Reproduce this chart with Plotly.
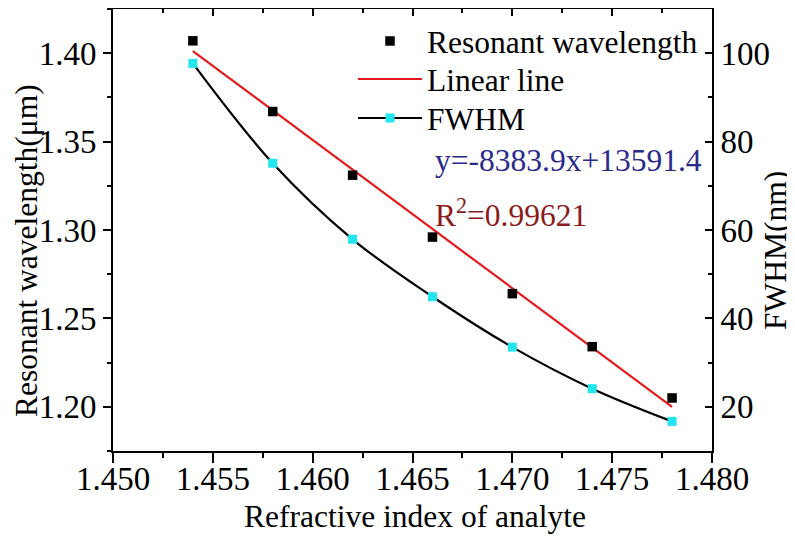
import plotly.graph_objects as go

# ---- data ----
refractive_index = [1.454, 1.458, 1.462, 1.466, 1.470, 1.474, 1.478]
resonant_wavelength = [1.407, 1.367, 1.331, 1.296, 1.264, 1.234, 1.205]   # um
fwhm_nm = [97.7, 75.1, 57.9, 44.9, 33.5, 24.1, 16.7]
fit_slope = -8383.9
fit_intercept = 13591.4
r_squared = "0.99621"
x_ticks = [1.450, 1.455, 1.460, 1.465, 1.470, 1.475, 1.480]
y_ticks = [1.20, 1.25, 1.30, 1.35, 1.40]
y2_ticks = [20, 40, 60, 80, 100]
x_title = "Refractive index of analyte"
y_title = "Resonant wavelength(μm)"
y2_title = "FWHM(nm)"

linear_line = [(fit_slope * x + fit_intercept) / 1000.0 for x in refractive_index]

FONT = "Liberation Serif, Times New Roman, serif"
FS = 31.5
TFS = 33

# page offset from default html body margin
OFF = 8
PAGE_W, PAGE_H = 795, 537
# plot area in page pixels
L, R, T, B = 113, 712, 9, 451
W, H = R - L, B - T


def px_x(px):
    return (px - L) / W


def px_y(py):
    return 1 - (py - T) / H


fig = go.Figure()
fig.add_trace(go.Scatter(
    x=refractive_index, y=fwhm_nm, mode="lines+markers", name="FWHM",
    line=dict(color="black", width=2.2, shape="spline", smoothing=1.0),
    marker=dict(symbol="square", size=9, color="#22e5f0"),
    xaxis="x", yaxis="y2", legend="legend3"))
fig.add_trace(go.Scatter(
    x=refractive_index, y=linear_line, mode="lines", name="Linear line",
    line=dict(color="#e41a1c", width=2.2), xaxis="x", yaxis="y",
    legend="legend2"))
fig.add_trace(go.Scatter(
    x=refractive_index, y=resonant_wavelength, mode="markers",
    name="Resonant wavelength",
    marker=dict(symbol="square", size=9.5, color="black"),
    xaxis="x", yaxis="y", legend="legend"))
# invisible traces for the extra tick-mark axes
for xa in ("x2", "x3"):
    fig.add_trace(go.Scatter(x=[x_ticks[0]], y=[y_ticks[0]], mode="markers",
                             marker=dict(opacity=0), showlegend=False,
                             hoverinfo="skip", xaxis=xa, yaxis="y"))

axis_common = dict(showline=True, linecolor="black", linewidth=2,
                   showgrid=False, zeroline=False, tickcolor="black",
                   tickwidth=2, automargin=False,
                   tickfont=dict(family=FONT, size=TFS, color="black"))


def leg(row_y):
    return dict(x=px_x(353), y=px_y(row_y), xanchor="left", yanchor="middle",
                bgcolor="rgba(0,0,0,0)", borderwidth=0, itemwidth=64,
                font=dict(family=FONT, size=FS, color="black"))


fig.update_layout(
    width=PAGE_W - OFF, height=PAGE_H - OFF,
    margin=dict(l=L - OFF, r=PAGE_W - R, t=T - OFF, b=PAGE_H - B),
    paper_bgcolor="white", plot_bgcolor="white",
    font=dict(family=FONT, size=FS, color="black"),
    showlegend=True,
    legend=leg(41), legend2=leg(79), legend3=leg(118),
    # bottom axis labels
    xaxis=dict(showgrid=False, zeroline=False, showline=False,
               automargin=False, anchor="y",
               range=[1.450, 1.480], tickvals=x_ticks,
               ticktext=[f"{v:.3f}" for v in x_ticks], ticks="",
               ticklabelstandoff=5,
               tickfont=dict(family=FONT, size=TFS, color="black")),
    # bottom axis line and tick marks (major + minor)
    xaxis3=dict(**axis_common, overlaying="x", side="bottom", anchor="y",
                matches="x", range=[1.450, 1.480], tickvals=x_ticks,
                showticklabels=False, ticks="outside", ticklen=10,
                minor=dict(dtick=0.0025, ticks="outside", ticklen=5,
                           tickcolor="black", tickwidth=2)),
    # top mirrored axis, ticks inside
    xaxis2=dict(**axis_common, overlaying="x", side="top", anchor="y",
                matches="x", range=[1.450, 1.480], tickvals=x_ticks,
                showticklabels=False, ticks="inside", ticklen=7,
                minor=dict(dtick=0.0025, ticks="inside", ticklen=4,
                           tickcolor="black", tickwidth=2)),
    yaxis=dict(**axis_common, range=[1.175, 1.425], tickvals=y_ticks,
               ticktext=[f"{v:.2f}" for v in y_ticks],
               ticks="outside", ticklen=8,
               minor=dict(dtick=0.025, ticks="outside", ticklen=4,
                          tickcolor="black", tickwidth=2)),
    yaxis2=dict(**axis_common, overlaying="y", side="right", anchor="x",
                range=[10, 110], tickvals=y2_ticks,
                ticks="inside", ticklen=7,
                minor=dict(dtick=10, ticks="inside", ticklen=4,
                           tickcolor="black", tickwidth=2)),
    annotations=[
        dict(xref="paper", yref="paper", x=px_x(433), y=px_y(160),
             xanchor="left", yanchor="middle", showarrow=False,
             text=f"y={fit_slope}x+{fit_intercept}",
             font=dict(family=FONT, size=FS, color="#2a2a8c")),
        dict(xref="paper", yref="paper", x=px_x(433), y=px_y(213),
             xanchor="left", yanchor="middle", showarrow=False,
             text=f"R<sup>2</sup>={r_squared}",
             font=dict(family=FONT, size=FS, color="#8b1c1c")),
        # axis titles
        dict(xref="paper", yref="paper", x=px_x(415), y=px_y(517),
             xanchor="center", yanchor="middle", showarrow=False,
             text=x_title, font=dict(family=FONT, size=FS, color="black")),
        dict(xref="paper", yref="paper", x=px_x(26), y=px_y(251),
             xanchor="center", yanchor="middle", showarrow=False,
             textangle=-90, text=y_title,
             font=dict(family=FONT, size=FS, color="black")),
        dict(xref="paper", yref="paper", x=px_x(775), y=px_y(251),
             xanchor="center", yanchor="middle", showarrow=False,
             textangle=-90, text=y2_title,
             font=dict(family=FONT, size=FS, color="black")),
    ],
)

fig.write_html("out.html")
